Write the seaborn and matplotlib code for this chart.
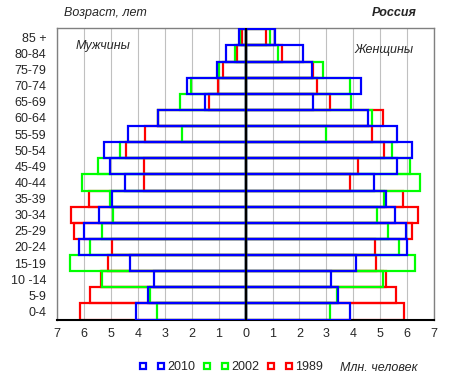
import matplotlib
matplotlib.use("Agg")
import matplotlib.pyplot as plt
import seaborn as sns
import numpy as np
import pandas as pd
from matplotlib.lines import Line2D

ages = ['85 +', '80-84', '75-79', '70-74', '65-69', '60-64', '55-59', '50-54',
        '45-49', '40-44', '35-39', '30-34', '25-29', '20-24', '15-19', '10 -14',
        '5-9', '0-4']

men_2010 = [0.26, 0.73, 1.05, 2.19, 1.52, 3.26, 4.37, 5.25, 5.04, 4.48, 4.98,
            5.45, 6.00, 6.19, 4.30, 3.41, 3.64, 4.08]
men_2002 = [0.21, 0.39, 0.99, 2.04, 2.44, 3.26, 2.38, 4.68, 5.48, 6.08, 5.04,
            4.92, 5.34, 5.78, 6.53, 5.35, 3.55, 3.29]
men_1989 = [0.15, 0.33, 0.86, 1.04, 1.37, 3.26, 3.75, 4.46, 3.78, 3.78, 5.82,
            6.49, 6.38, 4.98, 5.12, 5.38, 5.78, 6.16]

women_2010 = [1.10, 2.13, 2.46, 4.28, 2.49, 4.55, 5.64, 6.20, 5.61, 4.76, 5.20,
              5.54, 5.95, 5.99, 4.11, 3.19, 3.44, 3.87]
women_2002 = [0.90, 1.22, 2.87, 3.88, 3.91, 4.71, 2.98, 5.43, 6.10, 6.47, 5.16,
              4.90, 5.28, 5.69, 6.29, 5.11, 3.39, 3.13]
women_1989 = [0.74, 1.35, 2.50, 2.65, 3.12, 5.10, 4.68, 5.14, 4.17, 3.87, 5.84,
              6.40, 6.18, 4.79, 4.84, 5.20, 5.58, 5.87]

years = ['2010', '2002', '1989']
x_ticks = list(range(-7, 8))
x_labels = [str(abs(v)) for v in x_ticks]

sns.set_style("white")
plt.rcParams['font.family'] = ['Liberation Sans', 'DejaVu Sans']

W, H = 458, 390
fig = plt.figure(figsize=(W / 100, H / 100), dpi=100)
ax = fig.add_axes([57.3 / W, 1 - 320 / H, (434 - 57.3) / W, (320 - 28.3) / H])

series = [
    ('1989', men_1989, women_1989, '#FF0000', 2),
    ('2002', men_2002, women_2002, '#00FF00', 3),
    ('2010', men_2010, women_2010, '#0000FF', 4),
]
for name, m, w, col, z in series:
    for vals in (-np.array(m), np.array(w)):
        df = pd.DataFrame({'age': ages, 'value': vals})
        sns.barplot(data=df, x='value', y='age', order=ages, orient='h',
                    fill=False, color=col, saturation=1, width=1.0,
                    linewidth=1.6, errorbar=None, ax=ax, zorder=z)

ax.axvline(0, color='#000000', lw=1.5, zorder=6)

ax.set_xlim(-7, 7)
ax.set_ylim(17.53, -0.56)
ax.set_xticks(x_ticks)
ax.set_xticklabels(x_labels, fontsize=9)
ax.tick_params(axis='x', length=0, pad=6)
ax.tick_params(axis='y', length=0, pad=8, labelsize=9)
ax.set_xlabel('')
ax.set_ylabel('')
ax.set_axisbelow(True)
ax.xaxis.grid(True, color='#c0c0c0', lw=0.8)
ax.yaxis.grid(False)
for s in ('left', 'top', 'right'):
    ax.spines[s].set_color('#808080')
    ax.spines[s].set_linewidth(1.0)
ax.spines['bottom'].set_color('#000000')
ax.spines['bottom'].set_linewidth(1.5)

fig.text(64 / W, 1 - 13 / H, 'Возраст, лет', fontsize=9, style='italic',
         ha='left', va='center')
fig.text(417 / W, 1 - 13.3 / H, 'Россия', fontsize=9, style='italic',
         weight='bold', ha='right', va='center')
fig.text(76 / W, 1 - 45.7 / H, 'Мужчины', fontsize=9, style='italic',
         ha='left', va='center')
fig.text(355 / W, 1 - 50 / H, 'Женщины', fontsize=9, style='italic',
         ha='left', va='center')
fig.text(340 / W, 1 - 367.7 / H, 'Млн. человек', fontsize=9, style='italic',
         ha='left', va='center')

colors = {'2010': '#0000FF', '2002': '#00FF00', '1989': '#FF0000'}
handles, labels = [], []
for y in years:
    for lab in ('', y):
        handles.append(Line2D([], [], linestyle='none', marker='s', markersize=4.6,
                              markerfacecolor='white', markeredgecolor=colors[y],
                              markeredgewidth=1.6))
        labels.append(lab)
fig.legend(handles, labels, loc='center left',
           bbox_to_anchor=(139.5 / W, 1 - 367.5 / H), ncol=6, frameon=False,
           fontsize=9, handlelength=0.6, handletextpad=0.15, columnspacing=0.69,
           borderpad=0, borderaxespad=0)

fig.savefig('out.png', dpi=100)
